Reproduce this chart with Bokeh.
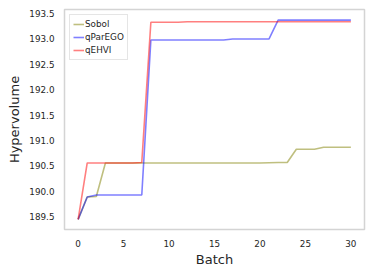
from bokeh.plotting import figure
from bokeh.models import FixedTicker, NumeralTickFormatter, Range1d, Legend, LegendItem
from bokeh.embed import file_html
from bokeh.resources import INLINE

batch = list(range(31))
sobol = [189.45, 189.89, 189.90, 190.56, 190.56, 190.56, 190.56, 190.56, 190.56, 190.56,
         190.56, 190.56, 190.56, 190.56, 190.56, 190.56, 190.56, 190.56, 190.56, 190.56,
         190.56, 190.565, 190.57, 190.57, 190.83, 190.83, 190.83, 190.87, 190.87, 190.87, 190.87]
qparego = [189.45, 189.89, 189.93, 189.93, 189.93, 189.93, 189.93, 189.93, 192.98, 192.98,
           192.98, 192.98, 192.98, 192.98, 192.98, 192.98, 192.98, 193.00, 193.00, 193.00,
           193.00, 193.00, 193.37, 193.37, 193.37, 193.37, 193.37, 193.37, 193.37, 193.37, 193.37]
qehvi = [189.45, 190.56, 190.56, 190.56, 190.56, 190.56, 190.56, 190.57, 193.33, 193.33,
         193.33, 193.33, 193.34, 193.34, 193.34, 193.34, 193.34, 193.34, 193.34, 193.34,
         193.34, 193.34, 193.34, 193.34, 193.34, 193.34, 193.34, 193.34, 193.34, 193.34, 193.34]
series_names = ["Sobol", "qParEGO", "qEHVI"]
series_colors = ["olive", "blue", "red"]
x_ticks = [0, 5, 10, 15, 20, 25, 30]
y_ticks = [189.5, 190.0, 190.5, 191.0, 191.5, 192.0, 192.5, 193.0, 193.5]

FONT = "DejaVu Sans"

p = figure(width=372, height=275, output_backend="svg", toolbar_location=None,
           x_range=Range1d(-1.5, 31.5), y_range=Range1d(189.25, 193.58),
           min_border_left=64, min_border_right=8, min_border_top=9, min_border_bottom=46)
p.background_fill_color = "white"
p.border_fill_color = "white"
p.outline_line_color = "#d4d4d4"
p.outline_line_width = 1.5
p.xgrid.visible = False
p.ygrid.visible = False

renderers = []
for ys, c in zip([sobol, qparego, qehvi], series_colors):
    r = p.line(batch, ys, line_color=c, line_alpha=0.5, line_width=1.6)
    renderers.append(r)

for ax in (p.xaxis[0], p.yaxis[0]):
    ax.axis_line_color = None
    ax.major_tick_line_color = None
    ax.minor_tick_line_color = None
    ax.major_tick_out = 0
    ax.major_tick_in = 0
    ax.major_label_text_font = FONT
    ax.major_label_text_font_size = "8.8px"
    ax.major_label_text_color = "#262626"
    ax.axis_label_text_font = FONT
    ax.axis_label_text_font_size = "13px"
    ax.axis_label_text_font_style = "normal"
    ax.axis_label_text_color = "#262626"

p.xaxis.ticker = FixedTicker(ticks=x_ticks)
p.yaxis.ticker = FixedTicker(ticks=y_ticks)
p.yaxis.formatter = NumeralTickFormatter(format="0.0")
p.xaxis.axis_label = "Batch"
p.yaxis.axis_label = "Hypervolume"
p.xaxis.major_label_standoff = 10
p.yaxis.major_label_standoff = 10
p.xaxis.axis_label_standoff = 2
p.yaxis.axis_label_standoff = 4

legend = Legend(items=[LegendItem(label=n, renderers=[r]) for n, r in zip(series_names, renderers)],
                location="top_left")
legend.label_text_font = FONT
legend.label_text_font_size = "8.8px"
legend.label_text_color = "#262626"
legend.label_height = 12
legend.glyph_height = 12
legend.glyph_width = 11
legend.label_standoff = 1
legend.spacing = 1
legend.padding = 3
legend.margin = 5
legend.border_line_color = "#cccccc"
legend.border_line_width = 1
legend.background_fill_alpha = 0.8
p.add_layout(legend)

open("out.html", "w").write(file_html(p, INLINE))
